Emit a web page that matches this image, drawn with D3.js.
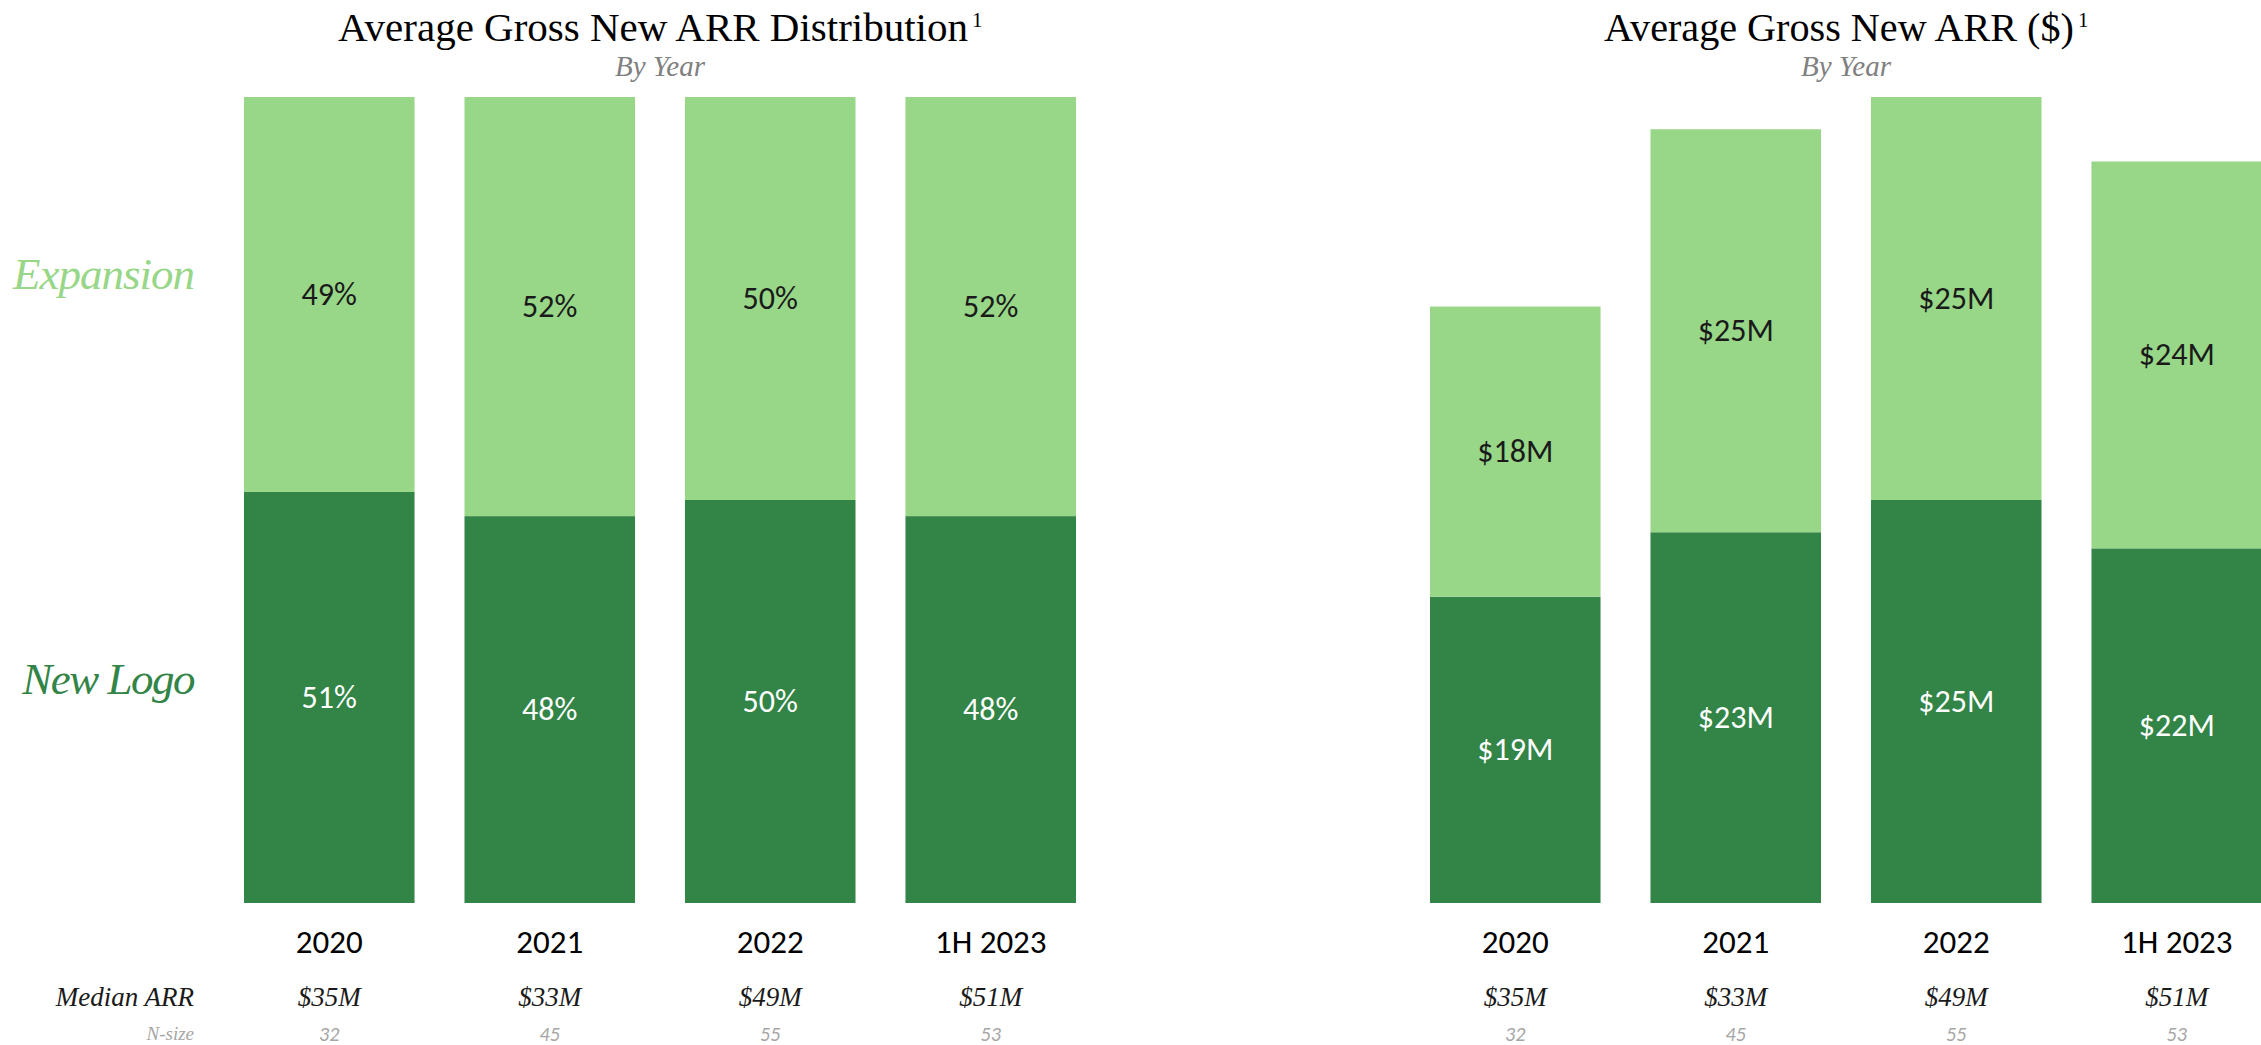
<!DOCTYPE html>
<html>
<head>
<meta charset="utf-8">
<script src="https://cdn.jsdelivr.net/npm/d3@7"></script>
<style>
  html, body { margin: 0; padding: 0; background: #ffffff; overflow: hidden; }
  svg { display: block; }
</style>
</head>
<body>
<svg id="chart" width="2261" height="1045"></svg>
<script>
// Years on the x axis
const years = ["2020", "2021", "2022", "1H 2023"];

// Share of gross new ARR (%)
const newLogoPct   = [51, 48, 50, 48];
const expansionPct = [49, 52, 50, 52];

// Average gross new ARR ($M)
const newLogoArr   = [19, 23, 25, 22];
const expansionArr = [18, 25, 25, 24];

// Rows under the bars
const medianArr = ["$35M", "$33M", "$49M", "$51M"];
const nSize     = [32, 45, 55, 53];

const seriesNames = ["New Logo", "Expansion"];

const COLORS = { "New Logo": "#328447", "Expansion": "#98d688" };
const LABEL_COLORS = { "New Logo": "#ffffff", "Expansion": "#1a1a1a" };
const SANS = "Carlito, Calibri, Lato, 'Open Sans', sans-serif";
const SERIF = "'Liberation Serif', 'DejaVu Serif', serif";

const svg = d3.select("#chart");
const BASE = 903, TOP = 97;

function buildRows(a, b) {
  return years.map((y, i) => ({ year: y, "New Logo": a[i], "Expansion": b[i] }));
}

function drawPanel(opts) {
  const { x0, x1, rows, yMax, fmt, title, titleWidth, showRowLabels } = opts;
  const g = svg.append("g");

  const x = d3.scaleBand().domain(years).range([x0, x1])
    .paddingInner(0.2266).paddingOuter(0);
  const y = d3.scaleLinear().domain([0, yMax]).range([BASE, TOP]);

  const stacked = d3.stack().keys(seriesNames)(rows);

  const layers = g.selectAll("g.layer").data(stacked).join("g")
    .attr("class", "layer")
    .attr("fill", d => COLORS[d.key]);

  layers.selectAll("rect").data(d => d).join("rect")
    .attr("x", d => x(d.data.year))
    .attr("width", x.bandwidth())
    .attr("y", d => y(d[1]))
    .attr("height", d => y(d[0]) - y(d[1]));

  // value labels centred in each segment
  stacked.forEach(layer => {
    g.append("g").selectAll("text").data(layer).join("text")
      .attr("x", d => x(d.data.year) + x.bandwidth() / 2)
      .attr("y", d => (y(d[0]) + y(d[1])) / 2)
      .attr("text-anchor", "middle")
      .attr("dominant-baseline", "central")
      .attr("font-family", SANS)
      .attr("font-size", 32)
      .attr("fill", LABEL_COLORS[layer.key])
      .text(d => fmt(d.data[layer.key]));
  });

  // year axis
  const axis = g.append("g")
    .attr("transform", `translate(0,${BASE})`)
    .call(d3.axisBottom(x).tickSize(0).tickPadding(27));
  axis.select(".domain").remove();
  axis.selectAll("text")
    .attr("font-family", SANS)
    .attr("font-size", 33)
    .attr("fill", "#000");

  // median ARR row
  g.append("g").selectAll("text").data(medianArr).join("text")
    .attr("x", (d, i) => x(years[i]) + x.bandwidth() / 2)
    .attr("y", 1006)
    .attr("text-anchor", "middle")
    .attr("font-family", SERIF)
    .attr("font-style", "italic")
    .attr("font-size", 27)
    .attr("fill", "#1a1a1a")
    .text(d => d);

  // sample size row
  g.append("g").selectAll("text").data(nSize).join("text")
    .attr("x", (d, i) => x(years[i]) + x.bandwidth() / 2)
    .attr("y", 1041)
    .attr("text-anchor", "middle")
    .attr("font-family", SANS)
    .attr("font-style", "italic")
    .attr("font-weight", 300)
    .attr("font-size", 20)
    .attr("fill", "#a6a6a6")
    .text(d => d);

  // title, sized to its width, followed by a footnote marker
  const cx = (x0 + x1) / 2;
  const t = g.append("text")
    .attr("y", 41)
    .attr("font-family", SERIF)
    .attr("font-size", 43)
    .attr("fill", "#000")
    .text(title);
  const natural = t.node().getComputedTextLength();
  const fs = 43 * titleWidth / natural;
  t.attr("font-size", fs);
  const w = t.node().getComputedTextLength();
  const start = cx - (w + 14) / 2;
  t.attr("x", start);
  g.append("text")
    .attr("x", start + w + 4)
    .attr("y", 27)
    .attr("font-family", SERIF)
    .attr("font-size", 21)
    .attr("fill", "#000")
    .text("1");

  g.append("text")
    .attr("x", cx)
    .attr("y", 76)
    .attr("text-anchor", "middle")
    .attr("font-family", SERIF)
    .attr("font-style", "italic")
    .attr("font-size", 29)
    .attr("fill", "#808080")
    .text("By Year");

  if (showRowLabels) {
    g.append("text")
      .attr("x", 194).attr("y", 1006)
      .attr("text-anchor", "end")
      .attr("font-family", SERIF).attr("font-style", "italic")
      .attr("font-size", 27).attr("fill", "#1a1a1a")
      .text("Median ARR");
    g.append("text")
      .attr("x", 194).attr("y", 1040)
      .attr("text-anchor", "end")
      .attr("font-family", SERIF).attr("font-style", "italic")
      .attr("font-size", 19).attr("fill", "#a6a6a6")
      .text("N-size");
  }
}

drawPanel({
  x0: 244, x1: 1076,
  rows: buildRows(newLogoPct, expansionPct),
  yMax: 100,
  fmt: v => v + "%",
  title: "Average Gross New ARR Distribution",
  titleWidth: 630,
  showRowLabels: true
});

drawPanel({
  x0: 1430, x1: 2262,
  rows: buildRows(newLogoArr, expansionArr),
  yMax: 50,
  fmt: v => "$" + v + "M",
  title: "Average Gross New ARR ($)",
  titleWidth: 470,
  showRowLabels: false
});

// series names beside the left chart
svg.append("text")
  .attr("x", 194).attr("y", 289)
  .attr("text-anchor", "end")
  .attr("font-family", SERIF).attr("font-style", "italic")
  .attr("font-size", 45).attr("letter-spacing", -1)
  .attr("fill", COLORS["Expansion"])
  .text("Expansion");
svg.append("text")
  .attr("x", 194).attr("y", 694)
  .attr("text-anchor", "end")
  .attr("font-family", SERIF).attr("font-style", "italic")
  .attr("font-size", 45).attr("letter-spacing", -1.5)
  .attr("fill", COLORS["New Logo"])
  .text("New Logo");
</script>
</body>
</html>
